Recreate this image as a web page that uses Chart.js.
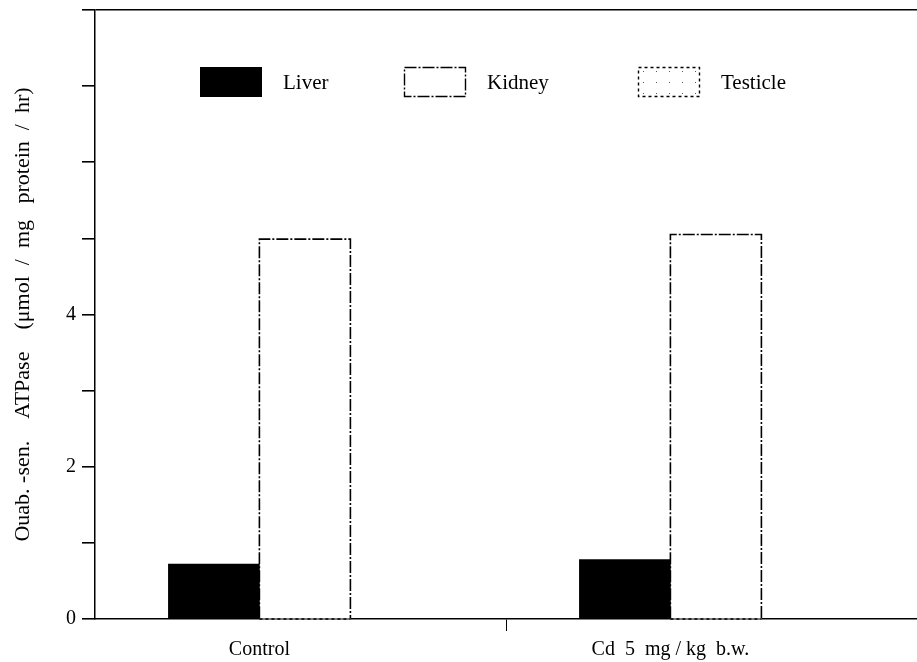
<!DOCTYPE html>
<html>
<head>
<meta charset="utf-8">
<script src="https://cdn.jsdelivr.net/npm/chart.js@4/dist/chart.umd.min.js"></script>
<style>
  body { margin: 0; background: #fff; }
  #wrap { width: 917px; height: 662px; position: relative; }
</style>
</head>
<body>
<div id="wrap"><canvas id="chartAtpase"></canvas></div>
<script>
const categories = ['Control', 'Cd  5  mg / kg  b.w.'];
const groupPos = [0, 1];
const liverValues = [0.72, 0.78];
const kidneyValues = [4.99, 5.05];
const testicleValues = [null, null]; // no testicle bar visible in the figure
const yTickLabels = [0, 2, 4];

Chart.defaults.font.family = "'Liberation Serif', 'DejaVu Serif', serif";
Chart.defaults.font.size = 20;
Chart.defaults.color = '#000';

// sparse dot pattern for the testicle swatch
function dotPattern() {
  const c = document.createElement('canvas');
  c.width = 13;
  c.height = 11;
  const g = c.getContext('2d');
  g.fillStyle = '#fff';
  g.fillRect(0, 0, 13, 11);
  g.fillStyle = '#555';
  g.fillRect(6, 5, 1, 1);
  return g.createPattern(c, 'repeat');
}

// bars in this figure have broken (dash-dot) outlines
const dashedBars = {
  id: 'dashedBars',
  afterDatasetsDraw(chart) {
    const ctx = chart.ctx;
    chart.data.datasets.forEach((ds, i) => {
      if (!ds.dash) return;
      const meta = chart.getDatasetMeta(i);
      meta.data.forEach((bar) => {
        if (bar.skip || isNaN(bar.y)) return;
        const l = bar.x - bar.width / 2;
        const r = bar.x + bar.width / 2;
        ctx.save();
        ctx.strokeStyle = '#000';
        ctx.lineWidth = 1.6;
        ctx.setLineDash(ds.dash);
        ctx.beginPath();
        ctx.moveTo(l, bar.base);
        ctx.lineTo(l, bar.y);
        ctx.lineTo(r, bar.y);
        ctx.lineTo(r, bar.base);
        ctx.stroke();
        ctx.restore();
      });
    });
  },
};

// legend sits inside the plot, one row near the top
const innerLegend = {
  id: 'innerLegend',
  afterDraw(chart) {
    const ctx = chart.ctx;
    const xs = [200, 404, 638];
    const top = chart.chartArea.top + 57;
    const boxW = 62;
    const boxH = 30;
    chart.data.datasets.forEach((ds, i) => {
      const x = xs[i];
      ctx.save();
      ctx.fillStyle = ds.backgroundColor;
      ctx.fillRect(x, top, boxW, boxH);
      if (ds.dash) {
        ctx.strokeStyle = '#000';
        ctx.lineWidth = 1.4;
        ctx.setLineDash(ds.dash);
        ctx.strokeRect(x + 0.5, top + 0.5, boxW - 1, boxH - 1);
      }
      ctx.setLineDash([]);
      ctx.fillStyle = '#000';
      ctx.font = "21px 'Liberation Serif', serif";
      ctx.textBaseline = 'middle';
      ctx.fillText(ds.label, x + boxW + 21, top + boxH / 2 + 1);
      ctx.restore();
    });
  },
};

const chartAtpase = document.getElementById('chartAtpase').getContext('2d');
const myChart = new Chart(chartAtpase, {
  type: 'bar',
  data: {
    labels: groupPos,
    datasets: [
      {
        label: 'Liver',
        data: liverValues,
        backgroundColor: '#000',
        borderWidth: 0,
      },
      {
        label: 'Kidney',
        data: kidneyValues,
        backgroundColor: '#fff',
        borderWidth: 0,
        dash: [12, 2, 2, 2],
      },
      {
        label: 'Testicle',
        data: testicleValues,
        backgroundColor: dotPattern(),
        borderWidth: 0,
        dash: [3, 3],
      },
    ],
  },
  options: {
    responsive: true,
    maintainAspectRatio: false,
    animation: false,
    skipNull: true,
    barThickness: 91,
    layout: { padding: { top: 10, right: 0, left: 0, bottom: 0 } },
    plugins: {
      legend: { display: false },
      tooltip: { enabled: false },
    },
    scales: {
      x: {
        type: 'linear',
        offset: false,
        min: -0.4,
        max: 1.6,
        afterBuildTicks: (scale) => {
          scale.ticks = [0, 0.6, 1].map((v) => ({ value: v }));
        },
        afterFit: (scale) => {
          scale.height = 43;
        },
        ticks: {
          autoSkip: false,
          maxRotation: 0,
          padding: 7,
          font: { size: 20 },
          callback: (v) => {
            const i = groupPos.indexOf(v);
            return i === -1 ? '' : categories[i];
          },
        },
        grid: {
          drawOnChartArea: false,
          offset: false,
          tickLength: 12,
          tickColor: (ctx) => (ctx.tick && ctx.tick.value === 0.6 ? '#000' : 'rgba(0,0,0,0)'),
        },
        border: { color: '#000', width: 1.5 },
      },
      y: {
        min: 0,
        max: 8,
        afterFit: (scale) => {
          scale.width = 95;
          scale.paddingTop = 0;
          scale.paddingBottom = 0;
        },
        ticks: {
          stepSize: 1,
          padding: 6,
          font: { size: 20 },
          callback: (v) => (yTickLabels.includes(v) ? String(v) : ''),
        },
        grid: {
          drawOnChartArea: true,
          tickLength: 13,
          lineWidth: 1.6,
          color: (ctx) => (ctx.tick && ctx.tick.value === 8 ? '#000' : 'rgba(0,0,0,0)'),
          tickColor: '#000',
        },
        border: { color: '#000', width: 1.5 },
        title: {
          display: true,
          text: 'Ouab. -sen.    ATPase    (\u03bcmol  /  mg   protein  /  hr)',
          font: { size: 22 },
          padding: { top: 10, bottom: 0 },
        },
      },
    },
  },
  plugins: [dashedBars, innerLegend],
});
</script>
</body>
</html>
